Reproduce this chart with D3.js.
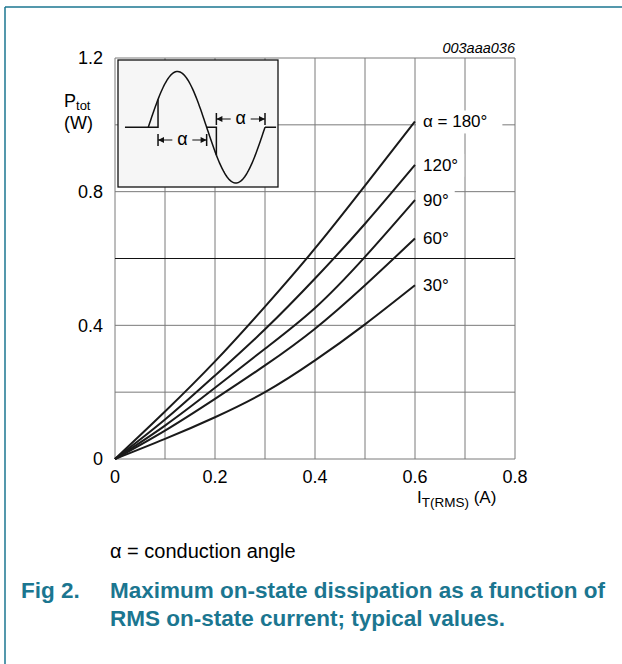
<!DOCTYPE html>
<html lang="en">
<head>
<meta charset="UTF-8" />
<script src="https://d3js.org/d3.v7.min.js"></script>
<style>
  body { margin: 0; background: white; }
  text { font-family: "Liberation Sans", Arial, sans-serif; }
</style>
</head>
<body>
<script>
// I_T(RMS) in A, P_tot in W
const currents = [0, 0.1, 0.2, 0.3, 0.4, 0.5, 0.6];
const p180 = [0, 0.142, 0.292, 0.456, 0.630, 0.818, 1.01];
const p120 = [0, 0.118, 0.250, 0.388, 0.540, 0.704, 0.88];
const p90  = [0, 0.100, 0.213, 0.330, 0.452, 0.605, 0.775];
const p60  = [0, 0.085, 0.180, 0.280, 0.390, 0.520, 0.66];
const p30  = [0, 0.060, 0.125, 0.200, 0.295, 0.403, 0.52];
const angleLabels = ["α = 180°", "120°", "90°", "60°", "30°"];
const xTicks = [0, 0.2, 0.4, 0.6, 0.8];
const yTicks = [0, 0.4, 0.8, 1.2];

const width = 622, height = 664;
const teal = "#1b7690";

const svg = d3.select("body").append("svg")
  .attr("width", width)
  .attr("height", height);

// frame lines (top + left only)
svg.append("line").attr("x1", 5).attr("y1", 7).attr("x2", width).attr("y2", 7)
  .attr("stroke", teal).attr("stroke-width", 1.5);
svg.append("line").attr("x1", 5).attr("y1", 7).attr("x2", 5).attr("y2", height)
  .attr("stroke", teal).attr("stroke-width", 1.5);

const x = d3.scaleLinear().domain([0, 0.8]).range([115, 515]);
const y = d3.scaleLinear().domain([0, 1.2]).range([459, 58]);

// grid
svg.append("g").selectAll("line")
  .data(d3.range(0, 0.81, 0.1))
  .join("line")
  .attr("x1", d => x(d)).attr("x2", d => x(d))
  .attr("y1", y(0)).attr("y2", y(1.2))
  .attr("stroke", "#7a7a7a").attr("stroke-width", 1);

svg.append("g").selectAll("line")
  .data(d3.range(0, 1.21, 0.2))
  .join("line")
  .attr("x1", x(0)).attr("x2", x(0.8))
  .attr("y1", d => y(d)).attr("y2", d => y(d))
  .attr("stroke", d => Math.abs(d - 0.6) < 1e-6 ? "#111" : "#7a7a7a")
  .attr("stroke-width", 1);

// tick labels
svg.append("g").selectAll("text")
  .data(xTicks)
  .join("text")
  .attr("x", d => x(d)).attr("y", 483)
  .attr("text-anchor", "middle")
  .style("font-size", "18px")
  .text(d => d === 0 ? "0" : d.toFixed(1));

svg.append("g").selectAll("text")
  .data(yTicks)
  .join("text")
  .attr("x", 103).attr("y", d => y(d))
  .attr("dy", "0.35em")
  .attr("text-anchor", "end")
  .style("font-size", "18px")
  .text(d => d === 0 ? "0" : d.toFixed(1));

// axis titles
const yt = svg.append("text").attr("x", 64).attr("y", 107).style("font-size", "18px");
yt.append("tspan").text("P");
yt.append("tspan").attr("dy", 3).style("font-size", "13px").text("tot");
svg.append("text").attr("x", 64).attr("y", 129).style("font-size", "18px").text("(W)");

const xt = svg.append("text").attr("x", 417).attr("y", 503).style("font-size", "17px");
xt.append("tspan").text("I");
xt.append("tspan").attr("dy", 4).style("font-size", "13.5px").text("T(RMS)");
xt.append("tspan").attr("dy", -4).text(" (A)");

svg.append("text").attr("x", 515).attr("y", 53)
  .attr("text-anchor", "end")
  .style("font-size", "14.5px").style("font-style", "italic")
  .text("003aaa036");

// curves
const series = [p180, p120, p90, p60, p30];
const line = d3.line()
  .x((d, i) => x(currents[i]))
  .y(d => y(d))
  .curve(d3.curveNatural);

// label backgrounds first so they break the grid
const labG = svg.append("g");
series.forEach((s, k) => {
  const ly = y(s[s.length - 1]);
  const t = labG.append("text")
    .attr("x", 423).attr("y", ly).attr("dy", "0.35em")
    .style("font-size", "17px")
    .text(angleLabels[k]);
  const bb = t.node().getBBox();
  const pad = k === 0 ? 15 : 6;
  labG.insert("rect", "text")
    .attr("x", 416).attr("y", bb.y - 2)
    .attr("width", bb.x + bb.width - 416 + pad).attr("height", bb.height + 4)
    .attr("fill", "white");
});

svg.append("g").selectAll("path")
  .data(series)
  .join("path")
  .attr("d", line)
  .attr("fill", "none")
  .attr("stroke", "#1a1a1a")
  .attr("stroke-width", 2);

// inset: conduction angle sketch
const inset = svg.append("g");
inset.append("rect")
  .attr("x", 118).attr("y", 60).attr("width", 160).attr("height", 127)
  .attr("fill", "#f6f6f6").attr("stroke", "#111").attr("stroke-width", 1.3);

const ph = d3.scaleLinear().domain([0, 2 * Math.PI]).range([148.3, 265]);
const amp = d3.scaleLinear().domain([-1, 1]).range([183, 71.5]);
const fire = Math.PI / 6;
const sine = (a, b) => d3.range(a, b + 1e-9, (b - a) / 60).map(t => [ph(t), amp(Math.sin(t))]);
const iline = d3.line();

const ink = p => inset.append("path").attr("d", iline(p))
  .attr("fill", "none").attr("stroke", "#111").attr("stroke-width", 1.5);

ink([[ph(-0.4 * Math.PI), amp(0)], [ph(fire), amp(0)], [ph(fire), amp(Math.sin(fire))]]);
ink(sine(0, Math.PI + fire));
ink([[ph(Math.PI), amp(0)], [ph(Math.PI + fire), amp(0)], [ph(Math.PI + fire), amp(Math.sin(Math.PI + fire))]]);
ink(sine(Math.PI + fire, 2 * Math.PI));
ink([[ph(2 * Math.PI), amp(0)], [ph(2.19 * Math.PI), amp(0)]]);

// alpha dimension markers
const dimension = (a, b, yy) => {
  const x1 = ph(a), x2 = ph(b), xm = (x1 + x2) / 2;
  [x1, x2].forEach(xx => ink([[xx, yy - 6], [xx, yy + 6]]));
  inset.append("path").attr("d", iline([[x1, yy], [xm - 10, yy]])).attr("stroke", "#111").attr("stroke-width", 1);
  inset.append("path").attr("d", iline([[xm + 10, yy], [x2, yy]])).attr("stroke", "#111").attr("stroke-width", 1);
  inset.append("path").attr("d", `M${x1},${yy}l6,-3l0,6z`).attr("fill", "#111");
  inset.append("path").attr("d", `M${x2},${yy}l-6,-3l0,6z`).attr("fill", "#111");
  inset.append("text").attr("x", xm).attr("y", yy).attr("dy", "0.3em")
    .attr("text-anchor", "middle").style("font-size", "18px").text("α");
};
dimension(fire, Math.PI, 140);
dimension(Math.PI + fire, 2 * Math.PI, 119);

// caption
svg.append("text").attr("x", 110).attr("y", 558).style("font-size", "20px").text("α = conduction angle");
const cap = svg.append("g").attr("fill", teal).style("font-weight", "bold").style("font-size", "22.5px");
cap.append("text").attr("x", 21).attr("y", 598).text("Fig 2.");
cap.append("text").attr("x", 110).attr("y", 598).text("Maximum on-state dissipation as a function of");
cap.append("text").attr("x", 110).attr("y", 626).text("RMS on-state current; typical values.");
</script>
</body>
</html>
